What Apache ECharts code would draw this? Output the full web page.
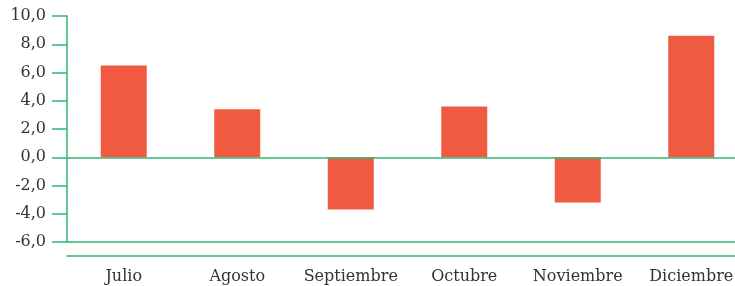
<!DOCTYPE html>
<html>
<head>
<meta charset="utf-8">
<script src="https://cdn.jsdelivr.net/npm/echarts@6/dist/echarts.min.js"></script>
<style>
  html, body { margin: 0; padding: 0; background: #fff; }
  #chart { width: 735px; height: 286px; }
</style>
</head>
<body>
<div id="chart"></div>
<script>
// datos
const meses = ["Julio", "Agosto", "Septiembre", "Octubre", "Noviembre", "Diciembre"];
const valores = [6.5, 3.4, -3.7, 3.6, -3.2, 8.6];
const yMin = -6;
const yMax = 10;
const yPaso = 2;

const verde = "#2fb670";
const rojo = "#f05a40";
const fuente = "DejaVu Serif";

const chart = echarts.init(document.getElementById("chart"));

chart.setOption({
  animation: false,
  // el área del gráfico sigue más allá del borde derecho
  grid: { left: 67, width: 681, top: 16, bottom: 44, outerBoundsMode: "none" },
  xAxis: {
    type: "category",
    data: meses,
    offset: 14,
    axisLine: { show: true, onZero: false, lineStyle: { color: verde, width: 1.5 } },
    axisTick: { show: false },
    axisLabel: { color: "#333", fontFamily: fuente, fontSize: 16, margin: 13, interval: 0 },
  },
  yAxis: {
    type: "value",
    min: yMin,
    max: yMax,
    interval: yPaso,
    axisLine: { show: true, lineStyle: { color: verde, width: 1.5 } },
    axisTick: { show: true, length: 15, lineStyle: { color: verde, width: 1.5 } },
    splitLine: { show: false },
    axisLabel: {
      color: "#333",
      fontFamily: fuente,
      fontSize: 16,
      margin: 21,
      formatter: (v) => v.toFixed(1).replace(".", ","),
    },
  },
  series: [
    {
      type: "bar",
      data: valores,
      barWidth: 46,
      itemStyle: { color: rojo },
      markLine: {
        silent: true,
        symbol: "none",
        label: { show: false },
        lineStyle: { color: verde, type: "solid", width: 1.5 },
        data: [{ yAxis: 0 }, { yAxis: yMin }],
      },
    },
  ],
});
</script>
</body>
</html>
